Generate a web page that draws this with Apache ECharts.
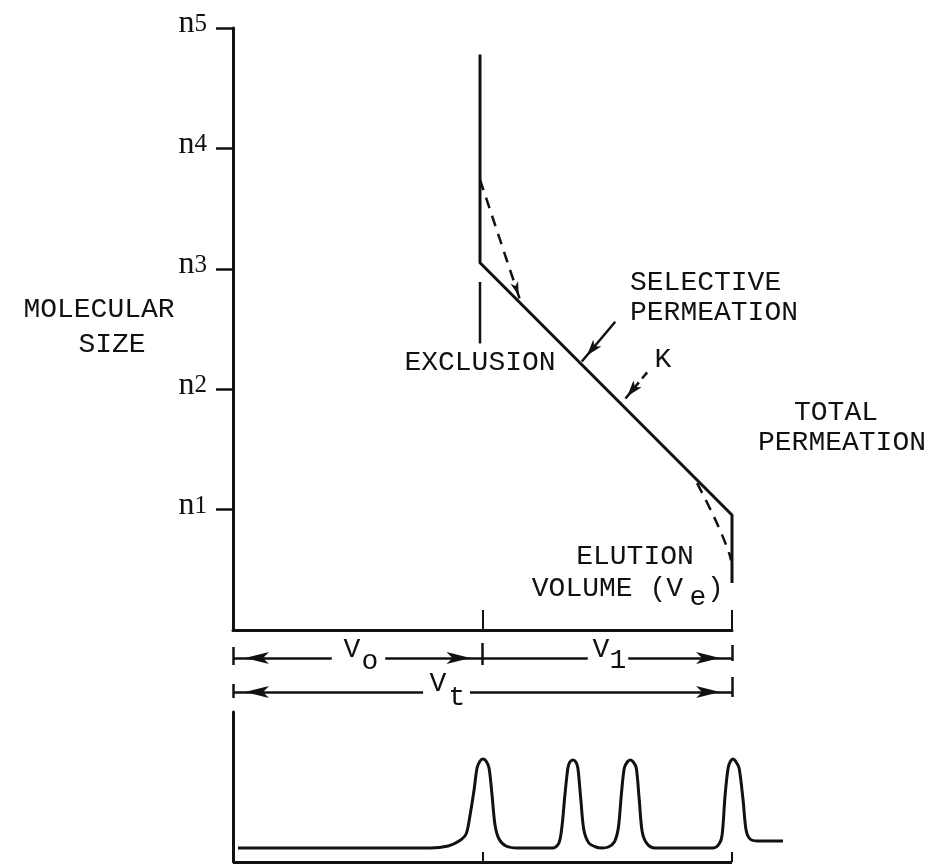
<!DOCTYPE html>
<html>
<head>
<meta charset="utf-8">
<script src="https://cdn.jsdelivr.net/npm/echarts@6/dist/echarts.min.js"></script>
<style>
  html, body { margin: 0; background: #fff; }
  #chart { width: 929px; height: 866px; }
</style>
</head>
<body>
<div id="chart"></div>
<script>
// elution volume runs 0..10 (Vo = 5, Vt = 10), molecular size as n^1..n^5
var sizeTicks = [1, 2, 3, 4, 5];
var volumeTicks = [5, 10];

// calibration curve: exclusion limit, selective permeation, total permeation
var calibCurve = [[4.95, 4.78], [4.95, 3.05], [10.0, 0.955], [10.0, 0.39]];
var exclusionMark = [[4.95, 2.89], [4.95, 2.38]];
var upperBend = [[4.95, 3.74], [5.77, 2.72]];
var lowerBend = [[9.30, 1.22], [9.57, 1.00], [9.80, 0.79], [9.94, 0.64], [9.98, 0.58]];
var selectiveArrow = [[7.66, 2.56], [6.99, 2.23]];
var kArrow = [[8.30, 2.14], [7.80, 1.89]];

// dimension lines Vo, V1, Vt  (x from, x to, row)
var dimRows = { top: 4.2, bottom: 0.8 };
var dimVo = [0, 5];
var dimV1 = [5, 10];
var dimVt = [0, 10];

// chromatogram trace (volume, detector signal)
var chromatogram = [
  [0.10, 1.4], [3.95, 1.4], [4.31, 1.6], [4.53, 2.1], [4.67, 2.8], [4.75, 4.7], [4.83, 7.2],
  [4.89, 9.4], [4.95, 10.1], [5.01, 10.3], [5.07, 10.1], [5.13, 9.4], [5.19, 6.7], [5.25, 3.7],
  [5.33, 2.3], [5.47, 1.6], [5.71, 1.4], [6.41, 1.4],
  [6.53, 1.9], [6.59, 3.5], [6.65, 6.7], [6.71, 9.4], [6.75, 10.0], [6.81, 10.2], [6.87, 10.0],
  [6.91, 9.4], [6.97, 6.2], [7.03, 3.2], [7.13, 1.9], [7.27, 1.5], [7.39, 1.4],
  [7.52, 1.5], [7.64, 2.0], [7.72, 3.4], [7.78, 6.7], [7.84, 9.4], [7.90, 10.0], [7.96, 10.2],
  [8.02, 10.0], [8.08, 9.4], [8.14, 6.2], [8.20, 3.0], [8.30, 1.8], [8.46, 1.4], [9.62, 1.4],
  [9.74, 1.8], [9.80, 2.7], [9.86, 6.7], [9.92, 9.4], [9.96, 10.0], [10.02, 10.3], [10.08, 10.0],
  [10.14, 9.4], [10.22, 6.2], [10.28, 3.2], [10.36, 2.3], [10.52, 2.1], [11.02, 2.1]
];

var INK = '#111';
var MONO = '"Liberation Mono", "DejaVu Sans Mono", monospace';
var SERIF = '"Liberation Serif", serif';

var chart = echarts.init(document.getElementById('chart'));

var bigArrow = { symbol: 'arrow', symbolSize: [9, 24], symbolOffset: [0, 12] };

function seg(x1, x2, y, s1, s2) {
  var a = { coord: [x1, y], symbol: 'none' };
  var b = { coord: [x2, y], symbol: 'none' };
  if (s1) Object.assign(a, bigArrow);
  if (s2) Object.assign(b, bigArrow);
  return [a, b];
}
function bar(x, y1, y2) {
  return [{ coord: [x, y1], symbol: 'none' }, { coord: [x, y2], symbol: 'none' }];
}

function txt(x, y, text, align) {
  return {
    type: 'text', x: x, y: y, silent: true,
    style: { text: text, font: '28px ' + MONO, fill: INK, align: align || 'center', verticalAlign: 'middle' }
  };
}

var axisLine = { show: true, lineStyle: { color: INK, width: 3 } };

chart.setOption({
  animation: false,
  backgroundColor: '#fff',
  grid: [
    { left: 233, top: 28, width: 499, height: 602 },
    { left: 233, top: 640, width: 499, height: 60 },
    // a bit wider than 0..10 so the tail after the last peak can run past Vt
    { left: 233, top: 712, width: 554, height: 150 }
  ],
  xAxis: [
    {
      gridIndex: 0, type: 'value', min: 0, max: 10,
      axisLine: axisLine,
      axisTick: { show: true, inside: true, length: 20, customValues: volumeTicks, lineStyle: { color: INK, width: 2 } },
      axisLabel: { show: false }, splitLine: { show: false }
    },
    { gridIndex: 1, type: 'value', min: 0, max: 10, show: false },
    {
      gridIndex: 2, type: 'value', min: 0, max: 11.1,
      axisLine: { show: false },
      axisTick: { show: true, inside: true, length: 10, customValues: volumeTicks, lineStyle: { color: INK, width: 2 } },
      axisLabel: { show: false }, splitLine: { show: false }
    }
  ],
  yAxis: [
    {
      gridIndex: 0, type: 'value', min: 0, max: 5, interval: 1,
      axisLine: axisLine,
      axisTick: { show: true, length: 17, customValues: sizeTicks, lineStyle: { color: INK, width: 2.5 } },
      axisLabel: {
        customValues: sizeTicks, margin: 26, padding: [0, 0, 6, 0],
        formatter: function (v) { return '{n|n}{s|' + v + '}'; },
        rich: {
          n: { fontFamily: SERIF, fontSize: 32, lineHeight: 30, verticalAlign: 'bottom', color: INK },
          s: { fontFamily: SERIF, fontSize: 25, lineHeight: 25, padding: [0, 0, 3, 0], verticalAlign: 'bottom', color: INK }
        }
      },
      splitLine: { show: false }
    },
    { gridIndex: 1, type: 'value', min: 0, max: 6, show: false },
    {
      gridIndex: 2, type: 'value', min: 0, max: 15,
      axisLine: axisLine, axisTick: { show: false }, axisLabel: { show: false }, splitLine: { show: false }
    }
  ],
  series: [
    {
      name: 'calibration', type: 'line', xAxisIndex: 0, yAxisIndex: 0,
      data: calibCurve, symbol: 'none', silent: true,
      lineStyle: { color: INK, width: 3 },
      markLine: {
        silent: true, label: { show: false },
        lineStyle: { color: INK, width: 2.5, type: 'solid' },
        data: [
          [{ coord: selectiveArrow[0], symbol: 'none' },
           { coord: selectiveArrow[1], symbol: 'arrow', symbolSize: [8, 16], symbolOffset: [0, 8] }],
          [{ coord: kArrow[0], symbol: 'none', lineStyle: { type: [8, 5] } },
           { coord: kArrow[1], symbol: 'arrow', symbolSize: [8, 16], symbolOffset: [0, 8] }],
          [{ coord: upperBend[0], symbol: 'none', lineStyle: { type: [11, 8] } },
           { coord: upperBend[1], symbol: 'arrow', symbolSize: [6, 14], symbolOffset: [0, 7] }]
        ]
      }
    },
    {
      name: 'exclusion', type: 'line', xAxisIndex: 0, yAxisIndex: 0,
      data: exclusionMark, symbol: 'none', silent: true,
      lineStyle: { color: INK, width: 2.5 }
    },
    {
      name: 'total permeation bend', type: 'line', xAxisIndex: 0, yAxisIndex: 0,
      data: lowerBend, symbol: 'none', smooth: 0.4, silent: true,
      lineStyle: { color: INK, width: 2.5, type: [11, 8] }
    },
    {
      name: 'dimensions', type: 'line', xAxisIndex: 1, yAxisIndex: 1,
      data: [], symbol: 'none', silent: true,
      markLine: {
        silent: true, label: { show: false },
        lineStyle: { color: INK, width: 2.5, type: 'solid' },
        data: [
          seg(dimVo[0], 1.98, dimRows.top, true, false),
          seg(3.05, dimVo[1], dimRows.top, false, true),
          seg(dimV1[0], 7.11, dimRows.top, false, false),
          seg(7.92, dimV1[1], dimRows.top, false, true),
          seg(dimVt[0], 3.81, dimRows.bottom, true, false),
          seg(4.75, dimVt[1], dimRows.bottom, false, true),
          bar(dimVo[0], 5.3, 3.5),
          bar(dimVo[1], 5.7, 3.5),
          bar(dimV1[1], 5.5, 3.9),
          bar(dimVt[0], 1.6, 0.2),
          bar(dimVt[1], 2.3, 0.3)
        ]
      }
    },
    {
      name: 'chromatogram', type: 'line', xAxisIndex: 2, yAxisIndex: 2,
      data: chromatogram, symbol: 'none', smooth: 0.3, silent: true,
      lineStyle: { color: INK, width: 3 },
      // base line of the chromatogram stops at Vt
      markLine: {
        silent: true, label: { show: false }, symbol: 'none',
        lineStyle: { color: INK, width: 3, type: 'solid' },
        data: [[{ coord: [0, 0] }, { coord: [dimVt[1], 0] }]]
      }
    }
  ],
  graphic: [
    txt(99, 310, 'MOLECULAR'),
    txt(112, 345, 'SIZE'),
    txt(480, 363, 'EXCLUSION'),
    txt(630, 283, 'SELECTIVE', 'left'),
    txt(630, 313, 'PERMEATION', 'left'),
    txt(663, 360, 'K'),
    txt(836, 413, 'TOTAL'),
    txt(842, 443, 'PERMEATION'),
    txt(635, 557, 'ELUTION'),
    txt(683, 589, 'VOLUME (V', 'right'),
    txt(698, 598, 'e'),
    txt(707, 589, ')', 'left'),
    txt(352, 650, 'V'), txt(370, 662, 'o'),
    txt(601, 650, 'V'), txt(618, 661, '1'),
    txt(438, 684, 'V'), txt(457, 698, 't')
  ]
});
</script>
</body>
</html>
